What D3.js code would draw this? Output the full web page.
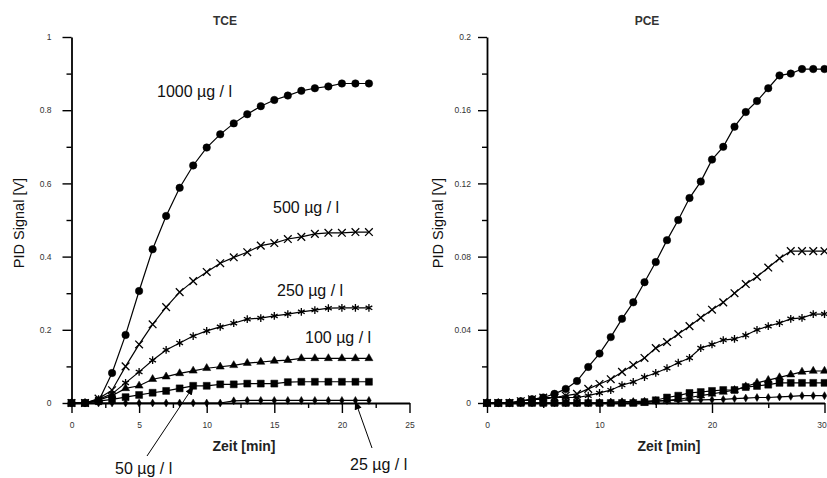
<!DOCTYPE html>
<html><head><meta charset="utf-8">
<script src="https://cdn.jsdelivr.net/npm/d3@7"></script>
<style>
html,body{margin:0;padding:0;background:#fff;}
svg{display:block;font-family:"Liberation Sans",Arial,sans-serif;}
</style></head>
<body><svg id="c" width="827" height="478"></svg>
<script>
// ---- data ----
const tceTime = [0,1,2,3,4,5,6,7,8,9,10,11,12,13,14,15,16,17,18,19,20,21,22];
const tce1000 = [0,0,0.005,0.082,0.186,0.306,0.42,0.511,0.588,0.649,0.698,0.734,0.764,0.789,0.811,0.828,0.84,0.853,0.86,0.865,0.873,0.873,0.873];
const tce500  = [0,0,0.012,0.035,0.10,0.16,0.215,0.262,0.303,0.333,0.358,0.382,0.398,0.412,0.43,0.437,0.448,0.454,0.462,0.465,0.465,0.467,0.467];
const tce250  = [0,0,0.01,0.025,0.055,0.085,0.117,0.145,0.164,0.183,0.197,0.208,0.218,0.229,0.232,0.238,0.243,0.249,0.254,0.259,0.26,0.26,0.26];
const tce100  = [0,0,0.008,0.02,0.04,0.047,0.065,0.072,0.081,0.088,0.095,0.099,0.103,0.109,0.112,0.115,0.117,0.122,0.122,0.122,0.122,0.122,0.122];
const tce50   = [0,0,0.005,0.01,0.016,0.022,0.028,0.033,0.04,0.047,0.047,0.051,0.051,0.053,0.053,0.053,0.057,0.058,0.058,0.058,0.058,0.058,0.058];
const tce25   = [0,0,0,0,0,0,0,0,0,0,0,0,0.006,0.007,0.007,0.007,0.007,0.007,0.007,0.007,0.007,0.007,0.007];

const pceTime = [0,1,2,3,4,5,6,7,8,9,10,11,12,13,14,15,16,17,18,19,20,21,22,23,24,25,26,27,28,29,30];
const pce1000 = [0,0,0,0.001,0.002,0.003,0.005,0.0077,0.012,0.0197,0.027,0.036,0.046,0.055,0.066,0.077,0.089,0.1,0.112,0.121,0.133,0.14,0.151,0.159,0.165,0.172,0.179,0.18,0.1825,0.1825,0.1825];
const pce500  = [0,0,0,0.001,0.002,0.003,0.003,0.004,0.005,0.0077,0.0104,0.013,0.017,0.0208,0.0246,0.03,0.0333,0.0377,0.042,0.0466,0.051,0.055,0.06,0.065,0.069,0.074,0.079,0.083,0.083,0.083,0.083];
const pce250  = [0,0,0,0.001,0.002,0.002,0.003,0.003,0.003,0.004,0.0055,0.007,0.0098,0.0115,0.0142,0.0164,0.019,0.022,0.0246,0.03,0.032,0.0344,0.035,0.037,0.040,0.042,0.0437,0.046,0.0465,0.0486,0.0486];
const pce100  = [0,0,0,0,0,0,0,0,0,0,0,0,0,0,0,0.001,0.0015,0.002,0.003,0.004,0.005,0.006,0.007,0.009,0.011,0.0125,0.014,0.0155,0.017,0.0175,0.0175];
const pce50   = [0,0,0,0,0,0,0,0,0,0,0,0,0,0,0.0005,0.0015,0.003,0.004,0.0055,0.006,0.0066,0.0071,0.0071,0.0087,0.0093,0.01,0.011,0.011,0.011,0.011,0.011];
const pce25   = [0,0,0,0,0,0,0,0,0,0,0,0.0005,0.0007,0.0008,0.001,0.001,0.0013,0.0015,0.0016,0.0017,0.0018,0.002,0.0024,0.0027,0.003,0.003,0.0033,0.0036,0.004,0.004,0.004];

const seriesNames = ["1000","500","250","100","50","25"];
const tceXTicks = [0,5,10,15,20,25];
const tceYTicks = [0,0.2,0.4,0.6,0.8,1];
const tceYLabels = ["0","0.2","0.4","0.6","0.8","1"];
const pceXTicks = [0,10,20,30];
const pceYTicks = [0,0.04,0.08,0.12,0.16,0.2];
const pceYLabels = ["0","0.04","0.08","0.12","0.16","0.2"];
const labels = ["1000 \u00b5g / l","500 \u00b5g / l","250 \u00b5g / l","100 \u00b5g / l","50 \u00b5g / l","25 \u00b5g / l"];

// ---- drawing ----
const svg = d3.select("#c");
const defs = svg.append("defs");
defs.append("marker").attr("id","ah").attr("viewBox","0 0 10 10").attr("refX",9).attr("refY",5)
  .attr("markerWidth",9).attr("markerHeight",9).attr("markerUnits","userSpaceOnUse").attr("orient","auto")
  .append("path").attr("d","M0,1 L10,5 L0,9 Z").attr("fill","#000");

const symbolDefs = [
  {type:d3.symbolCircle, size:44, fill:true},
  {type:d3.symbolTimes, size:40, fill:false},
  {type:d3.symbolAsterisk, size:42, fill:false},
  {type:d3.symbolTriangle, size:28, fill:true},
  {type:d3.symbolSquare, size:48, fill:true},
  {type:d3.symbolDiamond, size:18, fill:true}
];

function panel(cfg){
  const x = d3.scaleLinear().domain(cfg.xDomain).range(cfg.xRange);
  const y = d3.scaleLinear().domain(cfg.yDomain).range([403,37]);
  const g = svg.append("g");
  g.append("g").attr("transform",`translate(${cfg.xRange[0]},0)`)
    .call(d3.axisLeft(y).tickValues(cfg.yMinor).tickSize(5).tickFormat(""))
    .call(s=>s.select(".domain").remove());
  g.append("g").attr("transform",`translate(${cfg.xRange[0]},0)`)
    .call(d3.axisLeft(y).tickValues(cfg.yTicks).tickSize(9).tickSizeOuter(0).tickPadding(cfg.yPad)
      .tickFormat((d,i)=>cfg.yLabels[i]));
  g.append("g").attr("transform","translate(0,403)")
    .call(d3.axisBottom(x).tickValues(cfg.xMinor).tickSize(5).tickFormat(""))
    .call(s=>s.select(".domain").remove());
  const xa = g.append("g").attr("transform","translate(0,403)")
    .call(d3.axisBottom(x).tickValues(cfg.xTicks).tickSize(10).tickSizeOuter(0).tickPadding(9));
  if (cfg.lastDx) xa.selectAll(".tick text").filter((d,i,n)=>i===n.length-1).attr("dx",cfg.lastDx);
  g.selectAll(".domain").attr("stroke","#000").attr("stroke-width",1.8);
  g.selectAll(".tick line").attr("stroke","#000").attr("stroke-width",1.4);
  g.selectAll(".tick text").attr("font-size",8.5).attr("fill","#333").attr("font-family","Liberation Sans, Arial, sans-serif");

  g.append("text").attr("x",cfg.titleX).attr("y",25).attr("text-anchor","middle")
    .attr("font-size",12).attr("fill","#333").attr("font-weight","bold").text(cfg.title);
  g.append("text").attr("transform",`translate(${cfg.yTitleX},223) rotate(-90)`).attr("text-anchor","middle")
    .attr("dy","0.35em").attr("font-size",14.5).attr("fill","#111").text("PID Signal [V]");
  g.append("text").attr("x",cfg.xTitleX).attr("y",451).attr("text-anchor","middle")
    .attr("font-size",14).attr("font-weight","bold").attr("fill","#222").text("Zeit [min]");

  const line = d3.line().x(d=>x(d[0])).y(d=>y(d[1]));
  cfg.series.forEach((vals,si)=>{
    const pts = cfg.time.map((t,i)=>[t,vals[i]]);
    g.append("path").datum(pts).attr("d",line).attr("fill","none").attr("stroke","#000").attr("stroke-width",1.2);
  });
  cfg.series.forEach((vals,si)=>{
    const sd = symbolDefs[si];
    const pts = cfg.time.map((t,i)=>[t,vals[i]]);
    g.selectAll(null).data(pts).enter().append("path")
      .attr("transform",d=>`translate(${x(d[0])},${y(d[1])})`)
      .attr("d",d3.symbol().type(sd.type).size(sd.size))
      .attr("fill",sd.fill?"#000":"none").attr("stroke","#000").attr("stroke-width",sd.fill?0.5:1.3);
  });
  return {x,y,g};
}

const L = panel({
  xDomain:[0,25], xRange:[71.5,409.5], yDomain:[0,1],
  xTicks:tceXTicks, xMinor:[2.5,7.5,12.5,17.5,22.5],
  yTicks:tceYTicks, yLabels:tceYLabels, yMinor:[0.1,0.3,0.5,0.7,0.9], yPad:11,
  title:"TCE", titleX:225, yTitleX:19, xTitleX:244,
  time:tceTime, series:[tce1000,tce500,tce250,tce100,tce50,tce25]
});
const R = panel({
  xDomain:[0,30], xRange:[487,824.5], yDomain:[0,0.2],
  xTicks:pceXTicks, xMinor:[5,15,25],
  yTicks:pceYTicks, yLabels:pceYLabels, yMinor:[0.02,0.06,0.1,0.14,0.18], yPad:7,
  title:"PCE", titleX:647, yTitleX:438, xTitleX:669, lastDx:-3,
  time:pceTime, series:[pce1000,pce500,pce250,pce100,pce50,pce25]
});

const ann = [
  {i:0, x:157, y:97},
  {i:1, x:273, y:213},
  {i:2, x:277, y:296},
  {i:3, x:305, y:343},
  {i:4, x:115, y:474},
  {i:5, x:350, y:470}
];
ann.forEach(a=>{
  svg.append("text").attr("x",a.x).attr("y",a.y).attr("font-size",16).attr("fill","#111").text(labels[a.i]);
});
const arrows = [
  {from:[147,456], t:9, vals:tce50},
  {from:[372,448], t:21, vals:tce25}
];
arrows.forEach(a=>{
  const tx = L.x(a.t), ty = L.y(a.vals[tceTime.indexOf(a.t)]) + 1;
  svg.append("line").attr("x1",a.from[0]).attr("y1",a.from[1]).attr("x2",tx).attr("y2",ty)
    .attr("stroke","#000").attr("stroke-width",1).attr("marker-end","url(#ah)");
});
</script></body></html>
